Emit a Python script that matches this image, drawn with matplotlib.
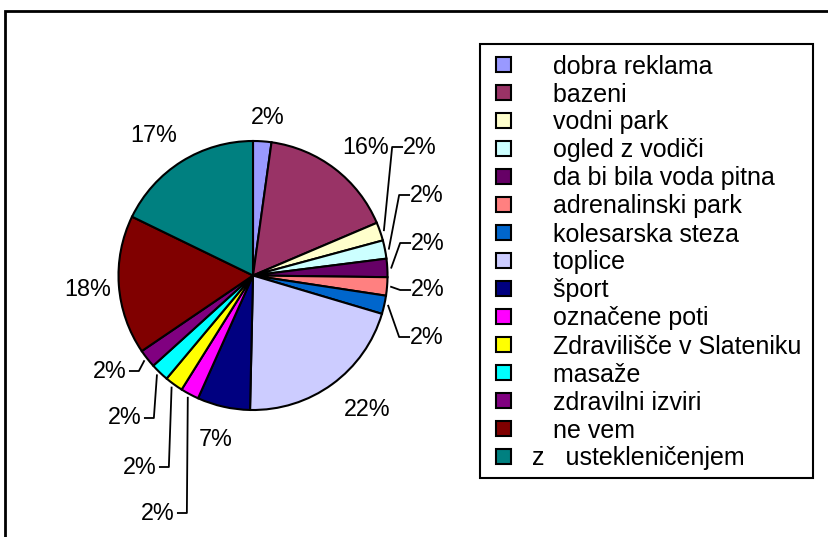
import matplotlib
matplotlib.use("Agg")
import matplotlib.pyplot as plt
import numpy as np
from matplotlib.patches import Rectangle

plt.rcParams['font.family'] = ['Liberation Sans', 'DejaVu Sans']

# data (shares, labels as printed)
categories = ["dobra reklama", "bazeni", "vodni park", "ogled z vodiči",
              "da bi bila voda pitna", "adrenalinski park", "kolesarska steza",
              "toplice", "šport", "označene poti", "Zdravilišče v Slateniku",
              "masaže", "zdravilni izviri", "ne vem", "z   ustekleničenjem"]
shares = [2.2, 16.4, 2.2, 2.2, 2.2, 2.2, 2.2, 20.75, 6.35, 2.2, 2.2, 2.2, 2.2, 16.7, 17.8]
pct_labels = ["2%", "16%", "2%", "2%", "2%", "2%", "2%", "22%", "7%",
              "2%", "2%", "2%", "2%", "18%", "17%"]
colors = ["#9999FF", "#993366", "#FFFFCC", "#CCFFFF", "#660066", "#FF8080",
          "#0066CC", "#CCCCFF", "#000080", "#FF00FF", "#FFFF00", "#00FFFF",
          "#800080", "#800000", "#008080"]

# layout in pixels (figure 829x537)
W, H = 829, 537
cx, cy, R = 253, 275.5, 134.5
FS_PIE = 16.8
FS_LEG = 18
label_px = [(268, 117), (366, 147), (420, 147), (427, 195), (428, 243),
            (428, 290), (427, 337), (367, 410), (216, 439), (158, 513),
            (140, 467), (125, 418), (110, 371), (88, 289), (154, 136)]
leader = [False, False, "r", "r", "r", "r", "r", False, False,
          "l", "l", "l", "l", False, False]

fig = plt.figure(figsize=(W / 100, H / 100), dpi=100)
ax = fig.add_axes([0, 0, 1, 1])

wedges, _ = ax.pie(shares, colors=colors, startangle=90, counterclock=False,
                   radius=1, wedgeprops=dict(edgecolor="black", linewidth=1.5))
ax.set_aspect("auto")
ax.set_xlim(-cx / R, (W - cx) / R)
ax.set_ylim((cy - H) / R, cy / R)
ax.axis("off")


def to_data(px, py):
    return (px - cx) / R, (cy - py) / R


half_w = 1.445 * FS_PIE * 100 / 72 / 2  # half width of "2%" in px
for w, lab, (px, py), side in zip(wedges, pct_labels, label_px, leader):
    tx, ty = to_data(px, py)
    ax.text(tx, ty, lab, fontsize=FS_PIE, ha="center", va="center")
    if side:
        th = np.deg2rad((w.theta1 + w.theta2) / 2)
        sx, sy = 1.03 * np.cos(th), 1.03 * np.sin(th)
        if side == "r":
            ex = px - half_w - 1
            bx = ex - 10
        else:
            ex = px + half_w + 3
            bx = ex + 9
        ex, ey = to_data(ex, py)
        bx, by = to_data(bx, py)
        ax.plot([sx, bx, ex], [sy, by, ey], color="black", lw=1.3)

# outer chart frame
fig.patches.append(Rectangle((5.5 / W, -0.1), 1.2, 1.1 - 11 / H, transform=fig.transFigure,
                             fill=False, edgecolor="black", lw=2))
# legend frame
fig.patches.append(Rectangle((480 / W, 1 - 478 / H), 333 / W, 434 / H, transform=fig.transFigure,
                             fill=False, edgecolor="black", lw=1.5))

leg_labels = ["   " + c if not c.startswith("z ") else c for c in categories]
leg = fig.legend(wedges, leg_labels, loc="upper left", frameon=False,
                 bbox_to_anchor=(496 / W, 1 - 54.5 / H), borderpad=0, borderaxespad=0,
                 fontsize=FS_LEG, handlelength=0.6, handleheight=0.58,
                 handletextpad=0.85, labelspacing=0.16)

fig.savefig("out.png", dpi=100)
